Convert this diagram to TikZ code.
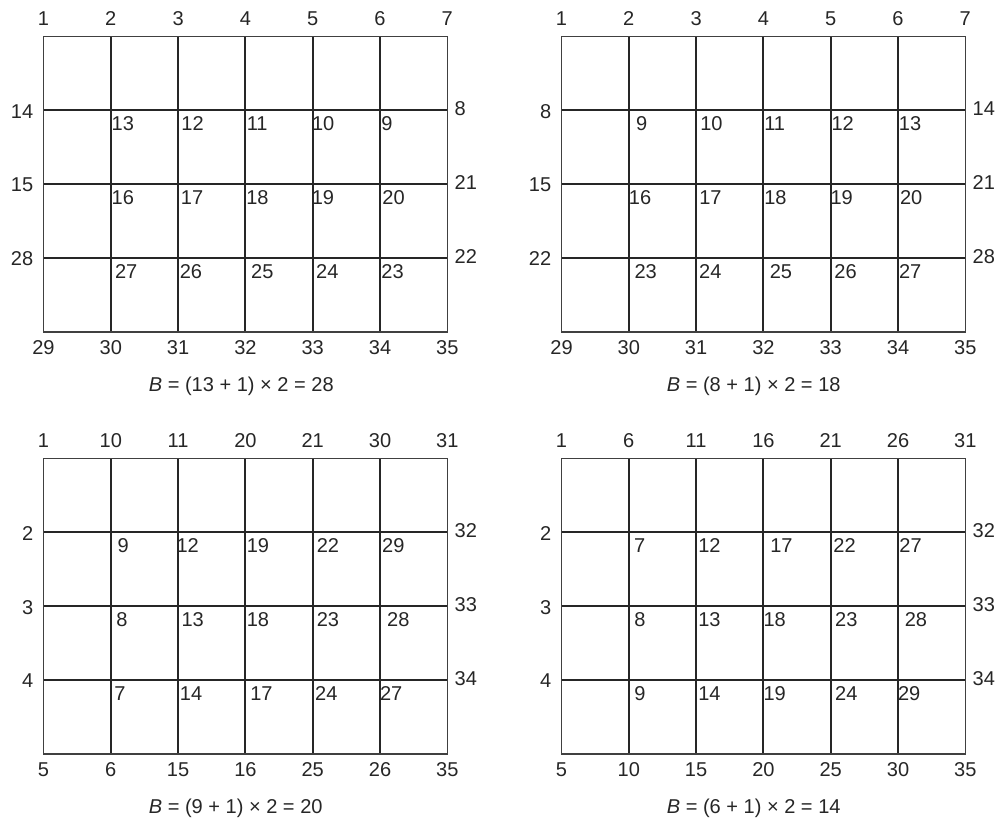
\documentclass[tikz,border=0pt]{standalone}
\usepackage{fontspec}
\setmainfont{Liberation Sans}
\usetikzlibrary{calc}

\tikzset{
  gridline/.style={line width=1.1pt, black!85},
  gridframe/.style={line width=0.8pt, black!75},
  edgenum/.style={inner sep=0pt, text=black!85, font=\fontsize{11.4}{13}\selectfont},
  cellnum/.style={edgenum, anchor=north west},
  rulenum/.style={edgenum, anchor=base west},
}

% #1 name, #2/#3 top left corner, #4 top, #5 bottom, #6 left, #7 right,
% #8 numbers in the cells (text/shift), #9 formula
\newcommand{\numgrid}[9]{%
  \foreach \i in {1,...,5}
    \draw[gridline] (#2+\i*\cw,#3) -- (#2+\i*\cw,#3+4*\ch);
  \foreach \j in {1,2,3}
    \draw[gridline] (#2,#3+\j*\ch) -- (#2+6*\cw,#3+\j*\ch);
  \draw[gridframe] (#2,#3) rectangle (#2+6*\cw,#3+4*\ch);
  \foreach \t [count=\c from 0] in {#4}
    \node[edgenum] (#1-top\c) at (#2+\c*\cw,#3-17.3) {\t};
  \foreach \t [count=\c from 0] in {#5}
    \node[edgenum] (#1-bot\c) at (#2+\c*\cw,#3+4*\ch+15.3) {\t};
  \foreach \t [count=\r] in {#6}
    \node[edgenum, anchor=east] (#1-left\r) at (#2-10,#3+\r*\ch+1) {\t};
  \foreach \t [count=\r] in {#7}
    \node[edgenum, anchor=west] (#1-right\r) at (#2+6*\cw+7,#3+\r*\ch-1.5) {\t};
  \foreach \row [count=\r] in {#8}
    \foreach \t/\s [count=\c] in \row
      \node[cellnum] (#1-cell\r\c) at (#2+\c*\cw+0.5+\s,#3+\r*\ch+6) {\t};
  \node[rulenum] (#1-rule) at (#2+105,#3+4*\ch+59.2) {#9};
}

\begin{document}
\begin{tikzpicture}[x=0.02cm,y=-0.02cm]
\def\cw{67.3}
\def\ch{73.9}
\useasboundingbox (0,0) rectangle (1000,821);

% top left
\numgrid{ga}{43.5}{36.3}
  {1,2,3,4,5,6,7}{29,30,31,32,33,34,35}{14,15,28}{8,21,22}
  {{13/0,12/2.5,11/0.5,10/-1.5,9/0.4},
   {16/0,17/2,18/0,19/-1.7,20/1.6},
   {27/3.4,26/0.9,25/4.9,24/2.6,23/0.6}}
  {\textit{B} = (13 + 1) × 2 = 28}

% top right
\numgrid{gb}{561.5}{36.3}
  {1,2,3,4,5,6,7}{29,30,31,32,33,34,35}{8,15,22}{14,21,28}
  {{9/6.4,10/3.3,11/0,12/0,13/0},
   {16/-0.7,17/2.3,18/0,19/-1,20/1.2},
   {23/4.9,24/2.2,25/5.6,26/2.9,27/0.2}}
  {\textit{B} = (8 + 1) × 2 = 18}

% bottom left
\numgrid{gc}{43.5}{458.3}
  {1,10,11,20,21,30,31}{5,6,15,16,25,26,35}{2,3,4}{32,33,34}
  {{9/6,12/-2.4,19/0.6,22/3.3,29/1.3},
   {8/4.7,13/2.6,18/0.6,23/3.3,28/6.3},
   {7/2.8,14/1,17/4,24/1.6,27/-0.8}}
  {\textit{B} = (9 + 1) × 2 = 20}

% bottom right
\numgrid{gd}{561.5}{458.3}
  {1,6,11,16,21,26,31}{5,10,15,20,25,30,35}{2,3,4}{32,33,34}
  {{7/4.5,12/1.3,17/6,22/1.9,27/0.5},
   {8/4.7,13/1.3,18/-0.7,23/3.6,28/5.9},
   {9/4.7,14/1.3,19/-0.7,24/3.6,29/-0.8}}
  {\textit{B} = (6 + 1) × 2 = 14}
\end{tikzpicture}
\end{document}
